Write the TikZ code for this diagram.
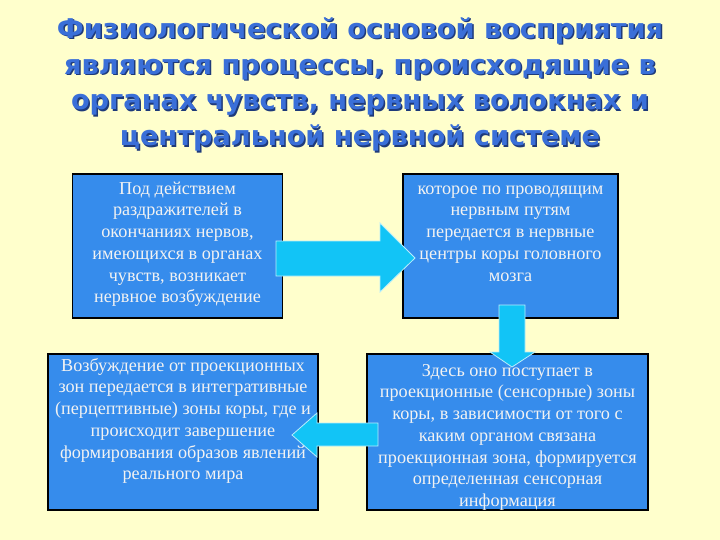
\documentclass[tikz,border=0pt]{standalone}
\usepackage{fontspec}
\setmainfont{Liberation Serif}
\newfontfamily\titlefont{DejaVu Sans}
\definecolor{bgyellow}{HTML}{FFFFCC}
\definecolor{boxblue}{HTML}{368CEC}
\definecolor{arrowcyan}{HTML}{12C4F6}
\definecolor{titleblue}{HTML}{3A6FD8}
\definecolor{titleshadow}{HTML}{1E3A7A}
\tikzset{
  box/.style={draw=black, line width=1.3pt, fill=boxblue, rectangle, inner sep=0pt},
  boxtext/.style={text=white!95!black, align=center, inner sep=0pt, anchor=north,
    font=\fontsize{18.2}{21.7}\selectfont},
  blockarrow/.style={fill=arrowcyan, draw=white!70!arrowcyan, line width=0.8pt, line join=miter},
  titletext/.style={align=center, inner sep=0pt, anchor=north,
    font=\titlefont\bfseries\fontsize{27.2}{35.7}\selectfont}
}
\begin{document}
\begin{tikzpicture}[x=1pt, y=-1pt]
\useasboundingbox (0,0) rectangle (720,540);
\fill[bgyellow] (0,0) rectangle (720,540);
% title
\node[titletext, text=titleshadow] at (361.5,19) {Физиологической основой восприятия\\являются процессы, происходящие в\\органах чувств, нервных волокнах и\\центральной нервной системе};
\node[titletext, text=titleblue] (title) at (360,17.5) {Физиологической основой восприятия\\являются процессы, происходящие в\\органах чувств, нервных волокнах и\\центральной нервной системе};
% boxes
\node[box, minimum width=210pt, minimum height=144pt] (b1) at (177.5,246) {};
\node[box, minimum width=215pt, minimum height=144pt] (b2) at (510.5,246) {};
\node[box, minimum width=270pt, minimum height=156pt] (b3) at (183,432) {};
\node[box, minimum width=281pt, minimum height=156pt] (b4) at (507.5,432) {};
% arrows
\draw[blockarrow] (276,241) -- (380,241) -- (380,223) -- (415,258) -- (380,292) -- (380,276) -- (276,276) -- cycle;
\draw[blockarrow] (499,305) -- (525,305) -- (525,352) -- (535,352) -- (512,367) -- (490,352) -- (499,352) -- cycle;
\draw[blockarrow] (378,423) -- (317,423) -- (317,413) -- (292,435) -- (317,457) -- (317,446) -- (378,446) -- cycle;
% texts
\node[boxtext] (t1) at ([yshift=-5.5pt]b1.north) {\strut Под действием\\раздражителей в\\окончаниях нервов,\\имеющихся в органах\\чувств, возникает\\нервное возбуждение};
\node[boxtext] (t2) at ([yshift=-5.5pt]b2.north) {\strut которое по проводящим\\нервным путям\\передается в нервные\\центры коры головного\\мозга};
\node[boxtext] (t3) at ([yshift=-2.5pt]b3.north) {\strut Возбуждение от проекционных\\зон передается в интегративные\\(перцептивные) зоны коры, где и\\происходит завершение\\формирования образов явлений\\реального мира};
\node[boxtext] (t4) at ([yshift=-7.5pt]b4.north) {\strut Здесь оно поступает в\\проекционные (сенсорные) зоны\\коры, в зависимости от того с\\каким органом связана\\проекционная зона, формируется\\определенная сенсорная\\информация};
\end{tikzpicture}
\end{document}
